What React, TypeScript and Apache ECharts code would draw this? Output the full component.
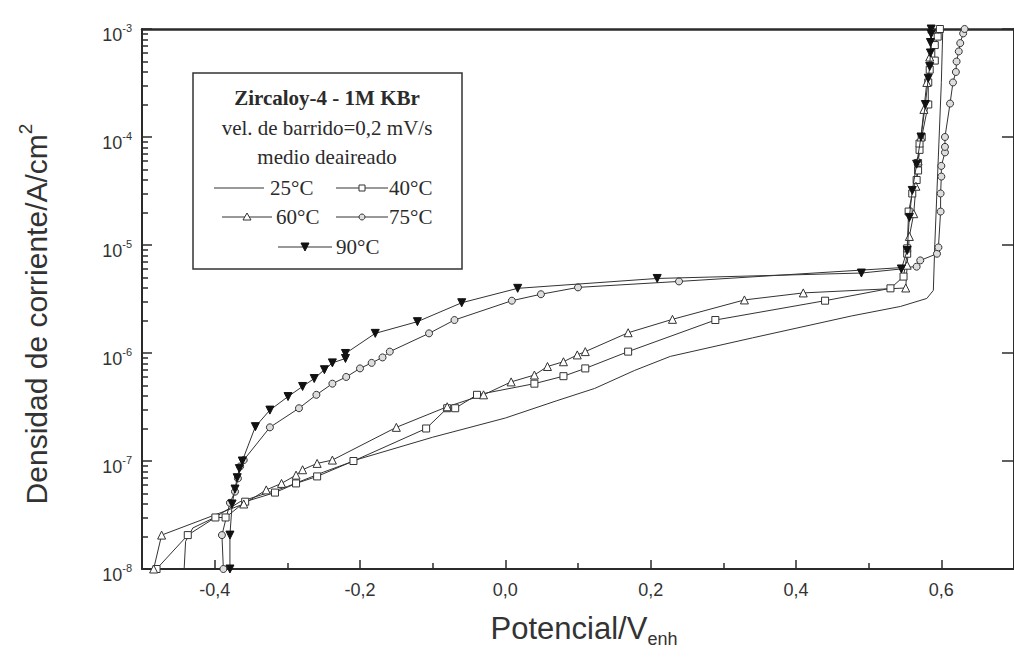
import React, { useEffect, useRef } from "react";
import * as echarts from "echarts";

// ---- axis ticks ----
const xMajorTicks = [-0.4, -0.2, 0, 0.2, 0.4, 0.6];
const xMinorTicks = [-0.5, -0.3, -0.1, 0.1, 0.3, 0.5, 0.7];
const yMajorTicks = [1e-8, 1e-7, 1e-6, 1e-5, 1e-4, 1e-3];
const yMinorTicks: number[] = [];
for (let e = -8; e < -3; e++) for (let m = 2; m <= 9; m++) yMinorTicks.push(Number((m * Math.pow(10, e)).toPrecision(3)));

// ---- series (potential V_enh, current density A/cm2) ----
const t25: [number, number][] = [
  [-0.442, 1.0e-8], [-0.44, 1.8e-8], [-0.43, 2.4e-8], [-0.4, 3.0e-8], [-0.365, 4.2e-8],
  [-0.3, 5.8e-8], [-0.25, 7.9e-8], [-0.2, 1.05e-7], [-0.1, 1.66e-7], [0.0, 2.5e-7],
  [0.07, 3.6e-7], [0.123, 4.7e-7], [0.178, 6.9e-7], [0.227, 9.3e-7], [0.34, 1.38e-6],
  [0.476, 2.2e-6], [0.544, 2.7e-6], [0.58, 3.2e-6], [0.589, 3.8e-6], [0.591, 1.0e-5],
  [0.594, 3.2e-5], [0.597, 1.0e-4], [0.6, 3.2e-4], [0.602, 1.0e-3],
];
const t40: [number, number][] = [
  [-0.48, 1.0e-8], [-0.437, 2.06e-8], [-0.399, 3.0e-8], [-0.385, 3.0e-8], [-0.358, 4.2e-8],
  [-0.317, 5.1e-8], [-0.288, 6.2e-8], [-0.259, 7.2e-8], [-0.209, 1.0e-7], [-0.109, 2.0e-7],
  [-0.08, 3.08e-7], [-0.069, 3.08e-7], [-0.039, 4.1e-7], [0.04, 5.2e-7], [0.08, 6.1e-7],
  [0.11, 7.2e-7], [0.169, 1.03e-6], [0.289, 2.02e-6], [0.44, 3.05e-6], [0.53, 3.97e-6],
  [0.548, 5.1e-6], [0.553, 8.3e-6], [0.553, 9.3e-6], [0.555, 2.04e-5], [0.56, 3.0e-5],
  [0.566, 4.0e-5], [0.568, 4.9e-5], [0.568, 5.75e-5], [0.57, 7.6e-5], [0.57, 8.7e-5],
  [0.573, 1.0e-4], [0.582, 2.0e-4], [0.582, 3.2e-4], [0.584, 4.2e-4], [0.591, 5.1e-4],
  [0.591, 7.1e-4], [0.595, 8.5e-4], [0.598, 1.0e-3],
];
const t60: [number, number][] = [
  [-0.484, 1.0e-8], [-0.473, 2.06e-8], [-0.36, 4.0e-8], [-0.329, 5.4e-8], [-0.308, 6.2e-8],
  [-0.288, 7.4e-8], [-0.279, 8.3e-8], [-0.259, 9.5e-8], [-0.238, 1.02e-7], [-0.15, 2.05e-7],
  [-0.08, 3.18e-7], [-0.03, 4.1e-7], [0.008, 5.4e-7], [0.04, 6.25e-7], [0.058, 7.5e-7],
  [0.08, 8.3e-7], [0.099, 9.6e-7], [0.11, 1.03e-6], [0.169, 1.54e-6], [0.23, 2.05e-6],
  [0.329, 3.1e-6], [0.41, 3.6e-6], [0.551, 4.0e-6], [0.553, 6.5e-6], [0.556, 1.2e-5],
  [0.562, 1.95e-5], [0.565, 3.5e-5], [0.568, 6.0e-5], [0.572, 1.0e-4], [0.576, 1.8e-4],
  [0.58, 3.2e-4], [0.584, 5.5e-4], [0.587, 1.0e-3],
];
const t75: [number, number][] = [
  [-0.388, 1.0e-8], [-0.39, 2.06e-8], [-0.379, 4.1e-8], [-0.372, 5.2e-8], [-0.368, 6.9e-8],
  [-0.365, 8.9e-8], [-0.36, 1.02e-7], [-0.324, 2.05e-7], [-0.284, 3.08e-7], [-0.26, 4.1e-7],
  [-0.238, 5.2e-7], [-0.219, 6.0e-7], [-0.2, 7.2e-7], [-0.184, 8.1e-7], [-0.169, 9.1e-7],
  [-0.159, 1.03e-6], [-0.105, 1.52e-6], [-0.07, 2.02e-6], [0.009, 3.05e-6], [0.049, 3.5e-6],
  [0.1, 4.05e-6], [0.239, 4.6e-6], [0.566, 6.3e-6], [0.571, 7.2e-6], [0.594, 8.3e-6],
  [0.596, 9.5e-6], [0.599, 2.04e-5], [0.599, 3.0e-5], [0.6, 4.3e-5], [0.6, 5.4e-5],
  [0.605, 7.2e-5], [0.605, 8.1e-5], [0.605, 1.0e-4], [0.612, 2.04e-4], [0.616, 3.2e-4],
  [0.62, 4.0e-4], [0.621, 5.0e-4], [0.624, 6.2e-4], [0.626, 7.4e-4], [0.63, 9.1e-4],
  [0.632, 1.0e-3],
];
const t90: [number, number][] = [
  [-0.379, 1.0e-8], [-0.379, 2.06e-8], [-0.376, 4.0e-8], [-0.372, 5.5e-8], [-0.369, 7.0e-8],
  [-0.366, 8.5e-8], [-0.362, 1.0e-7], [-0.344, 2.08e-7], [-0.324, 2.96e-7], [-0.299, 3.95e-7],
  [-0.279, 4.9e-7], [-0.263, 5.8e-7], [-0.249, 7.0e-7], [-0.238, 8.1e-7], [-0.22, 8.9e-7],
  [-0.22, 9.9e-7], [-0.179, 1.52e-6], [-0.121, 1.95e-6], [-0.06, 2.92e-6], [0.017, 3.97e-6],
  [0.209, 4.9e-6], [0.49, 5.5e-6], [0.545, 6.0e-6], [0.553, 8.9e-6], [0.556, 1.8e-5],
  [0.56, 3.2e-5], [0.566, 5.6e-5], [0.572, 1.0e-4], [0.578, 2.0e-4], [0.582, 3.5e-4],
  [0.584, 4.5e-4], [0.585, 6.0e-4], [0.585, 7.5e-4], [0.586, 9.0e-4], [0.586, 1.0e-3],
];

const legendTitle = "Zircaloy-4 - 1M KBr";
const legendLine2 = "vel. de barrido=0,2 mV/s";
const legendLine3 = "medio deaireado";
const seriesNames = ["25°C", "40°C", "60°C", "75°C", "90°C"];

const INK = "#2b2b2b";
const SANS = "Liberation Sans, Arial, sans-serif";
const SERIF = "Liberation Serif, Times New Roman, serif";

function fmtX(v: number) {
  const r = Math.abs(v) < 1e-9 ? 0 : v;
  return r.toFixed(1).replace(".", ",");
}

export default function App() {
  const ref = useRef<HTMLDivElement>(null);
  useEffect(() => {
    if (!ref.current) return;
    const chart = echarts.init(ref.current, undefined, { renderer: "svg" });

    const lineStyle = { color: "#333", width: 1 };
    const hollow = { color: "#fff", borderColor: "#333", borderWidth: 1 };

    const legendItems: any[] = [];
    const rowLine = (x1: number, x2: number, y: number) => ({
      type: "line", shape: { x1, y1: y, x2, y2: y }, style: { stroke: "#333", lineWidth: 1 },
    });
    const txt = (text: string, x: number, y: number, align = "left", bold = false) => ({
      type: "text", x, y,
      style: { text, fill: INK, font: `${bold ? "bold " : ""}21px ${SERIF}`, align, verticalAlign: "middle" },
    });
    legendItems.push({ type: "rect", shape: { x: 193, y: 73, width: 269, height: 196 }, style: { fill: "#fff", stroke: "#333", lineWidth: 1.5 } });
    legendItems.push(txt(legendTitle, 327, 98, "center", true));
    legendItems.push(txt(legendLine2, 327, 128, "center"));
    legendItems.push(txt(legendLine3, 327, 157, "center"));
    // row 1
    legendItems.push(rowLine(214, 264, 188));
    legendItems.push(txt(seriesNames[0], 270, 188));
    legendItems.push(rowLine(336, 388, 188));
    legendItems.push({ type: "rect", shape: { x: 359, y: 185, width: 6, height: 6 }, style: { fill: "#fff", stroke: "#333", lineWidth: 1 } });
    legendItems.push(txt(seriesNames[1], 389, 188));
    // row 2
    legendItems.push(rowLine(222, 272, 217));
    legendItems.push({ type: "polygon", shape: { points: [[247, 213], [251, 220], [243, 220]] }, style: { fill: "#fff", stroke: "#333", lineWidth: 1 } });
    legendItems.push(txt(seriesNames[2], 276, 217));
    legendItems.push(rowLine(336, 388, 217));
    legendItems.push({ type: "circle", shape: { cx: 362, cy: 217, r: 3 }, style: { fill: "#ddd", stroke: "#333", lineWidth: 1 } });
    legendItems.push(txt(seriesNames[3], 389, 217));
    // row 3
    legendItems.push(rowLine(278, 332, 247));
    legendItems.push({ type: "polygon", shape: { points: [[301, 243], [309, 243], [305, 251]] }, style: { fill: "#111", stroke: "#111", lineWidth: 1 } });
    legendItems.push(txt(seriesNames[4], 336, 247));

    const option: any = {
      animation: false,
      backgroundColor: "#fff",
      grid: { left: 142, top: 29, right: -11, bottom: 90, containLabel: false },
      xAxis: [
        {
          type: "value", min: -0.5, max: 0.7, position: "bottom",
          axisLine: { show: true, onZero: false, lineStyle: { color: INK, width: 2 } },
          axisTick: { show: true, inside: true, length: 9, customValues: xMajorTicks, lineStyle: { color: INK, width: 1.5 } },
          axisLabel: { show: true, customValues: xMajorTicks, formatter: fmtX, fontSize: 18, color: "#333", fontFamily: SANS, margin: 12 },
          splitLine: { show: false },
        },
        {
          type: "value", min: -0.5, max: 0.7, position: "bottom",
          axisLine: { show: false, onZero: false },
          axisTick: { show: true, inside: true, length: 6, customValues: xMinorTicks, lineStyle: { color: INK, width: 1.5 } },
          axisLabel: { show: false }, splitLine: { show: false },
        },
        {
          type: "value", min: -0.5, max: 0.7, position: "top",
          axisLine: { show: true, onZero: false, lineStyle: { color: INK, width: 2.5 } },
          axisTick: { show: false }, axisLabel: { show: false }, splitLine: { show: false },
        },
      ],
      yAxis: [
        {
          type: "log", logBase: 10, min: 1e-8, max: 1e-3, position: "left",
          axisLine: { show: true, onZero: false, lineStyle: { color: INK, width: 2 } },
          axisTick: { show: true, inside: true, length: 10, customValues: yMajorTicks, lineStyle: { color: INK, width: 1.5 } },
          axisLabel: {
            show: true, customValues: yMajorTicks, margin: 10, padding: [12, 0, 0, 0],
            formatter: (v: number) => `{b|10}{s|${Math.round(Math.log10(v))}}`,
            rich: {
              b: { fontSize: 18, color: "#333", fontFamily: SANS, lineHeight: 26 },
              s: { fontSize: 11, color: "#333", fontFamily: SANS, lineHeight: 10, verticalAlign: "top" },
            },
          },
          splitLine: { show: false },
        },
        {
          type: "log", logBase: 10, min: 1e-8, max: 1e-3, position: "left",
          axisLine: { show: false, onZero: false },
          axisTick: { show: true, inside: true, length: 6, customValues: yMinorTicks, lineStyle: { color: INK, width: 1.5 } },
          axisLabel: { show: false }, splitLine: { show: false },
        },
        {
          type: "log", logBase: 10, min: 1e-8, max: 1e-3, position: "right",
          axisLine: { show: true, onZero: false, lineStyle: { color: INK, width: 2 } },
          axisTick: { show: true, inside: true, length: 12, customValues: yMajorTicks, lineStyle: { color: INK, width: 1.5 } },
          axisLabel: { show: false }, splitLine: { show: false },
        },
      ],
      series: [
        { name: seriesNames[0], type: "line", data: t25, showSymbol: false, symbol: "none", lineStyle, z: 2 },
        { name: seriesNames[1], type: "line", data: t40, symbol: "rect", symbolSize: 7, itemStyle: hollow, lineStyle, z: 3 },
        { name: seriesNames[2], type: "line", data: t60, symbol: "triangle", symbolSize: 8, itemStyle: hollow, lineStyle, z: 3 },
        { name: seriesNames[3], type: "line", data: t75, symbol: "circle", symbolSize: 7, itemStyle: { color: "#ddd", borderColor: "#333", borderWidth: 1 }, lineStyle, z: 3 },
        { name: seriesNames[4], type: "line", data: t90, symbol: "triangle", symbolRotate: 180, symbolSize: 8, itemStyle: { color: "#111", borderColor: "#111", borderWidth: 1 }, lineStyle, z: 4 },
      ],
      graphic: [
        { type: "group", children: legendItems, z: 10 },
        {
          type: "text", x: 36, y: 314, rotation: Math.PI / 2, z: 10,
          style: {
            text: "{t|Densidad de corriente/A/cm}{s|2}", align: "center", verticalAlign: "middle",
            rich: {
              t: { fontSize: 30, fill: "#333", fontFamily: SANS, lineHeight: 40 },
              s: { fontSize: 19, fill: "#333", fontFamily: SANS, lineHeight: 18, verticalAlign: "top" },
            },
          },
        },
        {
          type: "text", x: 584, y: 628, z: 10,
          style: {
            text: "{t|Potencial/V}{s|enh}", align: "center", verticalAlign: "middle",
            rich: {
              t: { fontSize: 31, fill: "#333", fontFamily: SANS, lineHeight: 40 },
              s: { fontSize: 18, fill: "#333", fontFamily: SANS, lineHeight: 16, verticalAlign: "bottom" },
            },
          },
        },
      ],
    };
    chart.setOption(option);
    return () => chart.dispose();
  }, []);
  return <div ref={ref} style={{ position: "fixed", left: 0, top: 0, width: 1014, height: 659, background: "#fff" }} />;
}
